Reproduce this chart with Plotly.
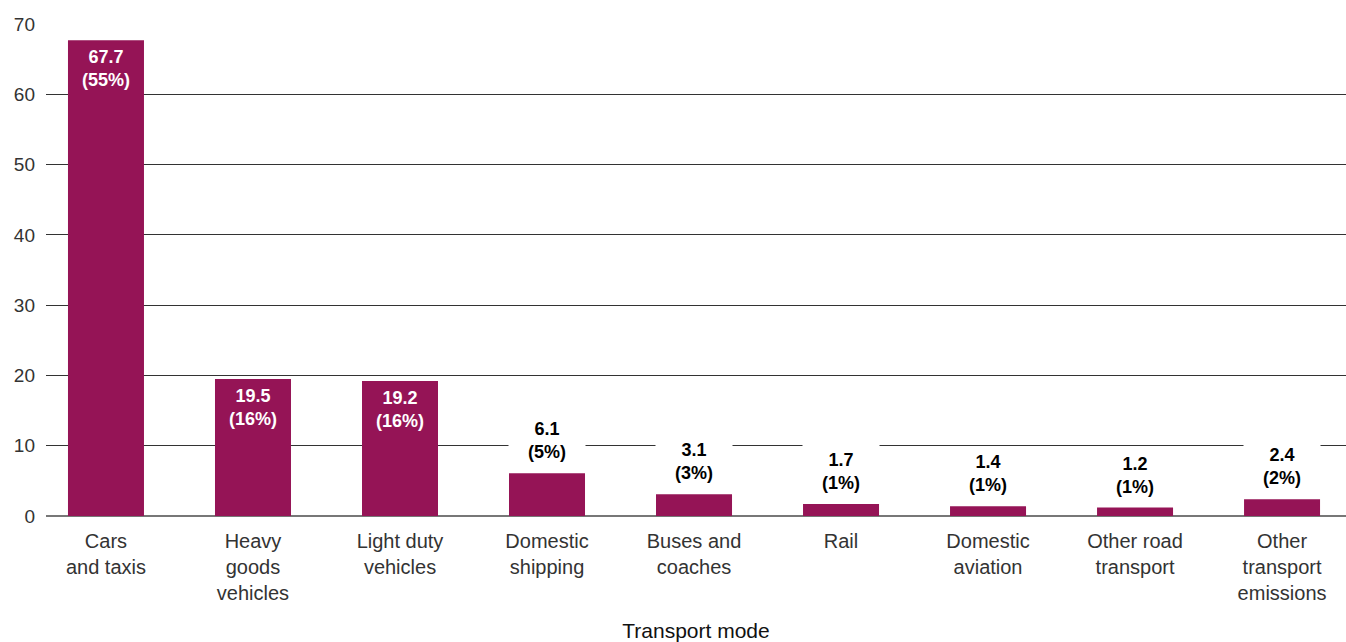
import plotly.graph_objects as go

categories = ["Cars<br>and taxis", "Heavy<br>goods<br>vehicles", "Light duty<br>vehicles",
              "Domestic<br>shipping", "Buses and<br>coaches", "Rail", "Domestic<br>aviation",
              "Other road<br>transport", "Other<br>transport<br>emissions"]
values = [67.7, 19.5, 19.2, 6.1, 3.1, 1.7, 1.4, 1.2, 2.4]
shares = [55, 16, 16, 5, 3, 1, 1, 1, 2]
y_ticks = [0, 10, 20, 30, 40, 50, 60, 70]

BAR = "#951456"
FONT = "Liberation Sans"
x_idx = list(range(len(categories)))

fig = go.Figure(go.Bar(
    x=x_idx, y=values, marker=dict(color=BAR, line=dict(width=0)),
    hoverinfo="skip",
))

annotations = []
for i, (v, s) in enumerate(zip(values, shares)):
    txt = f"<b>{v}<br>({s}%)</b>"
    if v > 10:
        annotations.append(dict(x=i, y=v, xref="x", yref="y", text=txt, showarrow=False,
                                yanchor="top", yshift=-5,
                                font=dict(family=FONT, size=18, color="white")))
    else:
        annotations.append(dict(x=i, y=v, xref="x", yref="y", text=txt, showarrow=False,
                                yanchor="bottom", yshift=5, width=66, bgcolor="white",
                                borderpad=5,
                                font=dict(family=FONT, size=18, color="black")))

fig.update_layout(
    width=1346, height=642,
    margin=dict(l=46, r=0, t=24, b=126),
    paper_bgcolor="white", plot_bgcolor="white",
    bargap=0.483, showlegend=False,
    font=dict(family=FONT, size=20, color="#333333"),
    annotations=annotations,
    xaxis=dict(tickmode="array", tickvals=x_idx, ticktext=categories,
               range=[-0.408, 8.435], showgrid=False, zeroline=False, showline=False,
               ticks="", ticklabelstandoff=11, automargin=False,
               tickfont=dict(family=FONT, size=20, color="#333333"),
               title=dict(text="Transport mode", standoff=20,
                          font=dict(family=FONT, size=21, color="#111111"))),
    yaxis=dict(range=[0, 70], tickvals=y_ticks, showgrid=True, gridcolor="#333333",
               gridwidth=1, zeroline=True, zerolinecolor="#777777", zerolinewidth=1.5,
               showline=False, ticks="", ticklabelstandoff=10, automargin=False,
               tickfont=dict(family=FONT, size=19, color="#333333")),
)

fig.write_html("out.html", config={"displayModeBar": False},
               post_script="document.body.style.margin='0';document.body.style.overflow='hidden';")
